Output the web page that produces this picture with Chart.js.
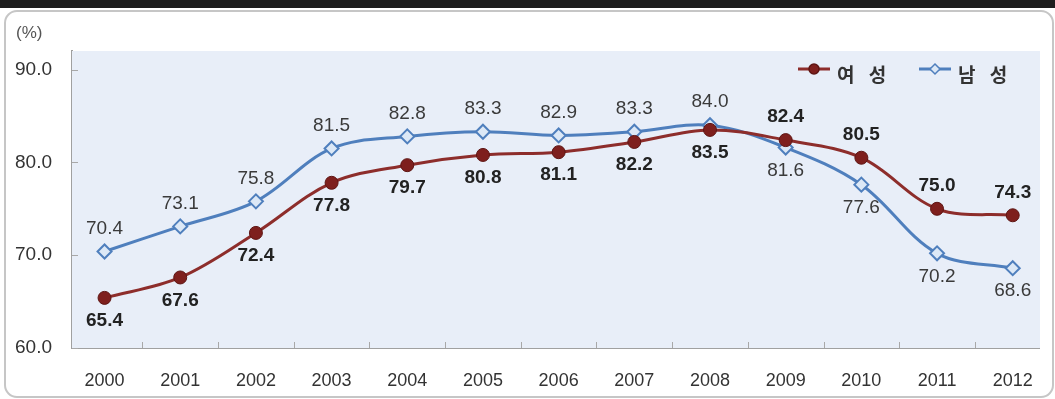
<!DOCTYPE html>
<html>
<head>
<meta charset="utf-8">
<script src="https://cdn.jsdelivr.net/npm/chart.js@4/dist/chart.umd.min.js"></script>
<style>
  html, body { margin: 0; padding: 0; background: #fff; }
  #wrap { position: relative; width: 1055px; height: 399px; overflow: hidden; }
  #band { position: absolute; left: 0; top: 0; width: 1055px; height: 8px; background: #1d1d1d; }
  #panel { position: absolute; left: 4px; top: 10px; width: 1046px; height: 384px;
           border: 2px solid #c6c6c6; border-radius: 13px; background: #fff; }
  canvas { position: absolute; left: 0; top: 0; }
</style>
</head>
<body>
<div id="wrap">
  <div id="band"></div>
  <div id="panel"></div>
  <canvas id="chart"></canvas>
</div>
<script>
const years = [2000, 2001, 2002, 2003, 2004, 2005, 2006, 2007, 2008, 2009, 2010, 2011, 2012];
const female = [65.4, 67.6, 72.4, 77.8, 79.7, 80.8, 81.1, 82.2, 83.5, 82.4, 80.5, 75.0, 74.3];
const male = [70.4, 73.1, 75.8, 81.5, 82.8, 83.3, 82.9, 83.3, 84.0, 81.6, 77.6, 70.2, 68.6];
const yTicks = [60, 70, 80, 90];

// where each value label sits relative to its point
const femaleSide = [1, 1, 1, 1, 1, 1, 1, 1, 1, -1, -1, -1, -1];
const maleSide = [-1, -1, -1, -1, -1, -1, -1, -1, -1, 1, 1, 1, 1];

const ctx = document.getElementById('chart').getContext('2d');
ctx.canvas.width = 1055;
ctx.canvas.height = 399;

const FONT = '"Liberation Sans", Arial, sans-serif';
const KFONT = '"Noto Sans CJK KR", "Noto Sans", sans-serif';

const decor = {
    id: 'decor',
    beforeDatasetsDraw(chart) {
        const { ctx, chartArea: a, scales } = chart;
        ctx.save();
        ctx.fillStyle = '#e8eef8';
        ctx.fillRect(a.left, a.top, a.right - a.left, a.bottom - a.top);
        // small inward ticks
        ctx.strokeStyle = '#a8a8a8';
        ctx.lineWidth = 1;
        ctx.beginPath();
        yTicks.forEach(v => {
            const y = Math.round(scales.y.getPixelForValue(v)) + 0.5;
            ctx.moveTo(a.left, y);
            ctx.lineTo(a.left + 6, y);
        });
        for (let i = 0; i < years.length - 1; i++) {
            const x = Math.round(scales.x.getPixelForValue(years[i] + 0.5)) + 0.5;
            ctx.moveTo(x, a.bottom);
            ctx.lineTo(x, a.bottom - 6);
        }
        ctx.stroke();
        ctx.restore();
    },
    afterDraw(chart) {
        const { ctx } = chart;
        ctx.save();
        ctx.fillStyle = '#555';
        ctx.font = '17px ' + FONT;
        ctx.textBaseline = 'middle';
        ctx.fillText('(%)', 16, 33);

        // legend
        const items = chart.data.datasets.map((ds, i) => ({ ds, x: [798, 919][i] }));
        items.forEach(({ ds, x }) => {
            const y = 69;
            ctx.strokeStyle = ds.borderColor;
            ctx.lineWidth = 3;
            ctx.beginPath();
            ctx.moveTo(x, y);
            ctx.lineTo(x + 32, y);
            ctx.stroke();
            ctx.fillStyle = ds.pointBackgroundColor;
            ctx.strokeStyle = ds.pointBorderColor;
            ctx.lineWidth = 1.5;
            ctx.beginPath();
            if (ds.pointStyle === 'rectRot') {
                ctx.moveTo(x + 16, y - 5); ctx.lineTo(x + 21, y);
                ctx.lineTo(x + 16, y + 5); ctx.lineTo(x + 11, y);
                ctx.closePath();
            } else {
                ctx.arc(x + 16, y, 5, 0, Math.PI * 2);
            }
            ctx.fill();
            ctx.stroke();
            ctx.fillStyle = '#333';
            ctx.font = 'bold 19px ' + KFONT;
            ctx.textBaseline = 'middle';
            ctx.letterSpacing = '5px';
            ctx.fillText(ds.label, x + 39, y + 6);
            ctx.letterSpacing = '0px';
        });
        ctx.restore();
    },
    afterDatasetsDraw(chart) {
        const { ctx } = chart;
        ctx.save();
        ctx.textAlign = 'center';
        ctx.textBaseline = 'middle';
        chart.data.datasets.forEach((ds, di) => {
            const meta = chart.getDatasetMeta(di);
            const sides = di === 0 ? femaleSide : maleSide;
            ctx.font = (di === 0 ? 'bold ' : '') + '19px ' + FONT;
            ctx.fillStyle = di === 0 ? '#222' : '#3a3a3a';
            meta.data.forEach((pt, i) => {
                ctx.fillText(ds.data[i].y.toFixed(1), pt.x, pt.y + sides[i] * 23);
            });
        });
        ctx.restore();
    }
};

const chart = new Chart(ctx, {
    type: 'line',
    data: {
        datasets: [
            {
                label: '여 성',
                data: years.map((x, i) => ({ x: x, y: female[i] })),
                borderColor: '#8d2d2b',
                borderWidth: 3,
                pointStyle: 'circle',
                pointRadius: 6.5,
                pointBackgroundColor: '#7e1f1d',
                pointBorderColor: '#5e1513',
                pointBorderWidth: 1,
                tension: 0.35
            },
            {
                label: '남 성',
                data: years.map((x, i) => ({ x: x, y: male[i] })),
                borderColor: '#4f7fbd',
                borderWidth: 3,
                pointStyle: 'rectRot',
                pointRadius: 7,
                pointBackgroundColor: '#dce8f6',
                pointBorderColor: '#4f7fbd',
                pointBorderWidth: 2,
                tension: 0.35
            }
        ]
    },
    options: {
        responsive: false,
        animation: false,
        layout: { padding: { top: 51, right: 5, left: 0, bottom: 0 } },
        plugins: { legend: { display: false }, tooltip: { enabled: false } },
        scales: {
            x: {
                type: 'linear',
                min: 1999.57,
                max: 2012.36,
                afterBuildTicks: axis => { axis.ticks = years.map(v => ({ value: v })); },
                afterFit: axis => { axis.height = 51; },
                grid: { display: false, drawTicks: false },
                border: { color: '#a0a0a0', width: 2 },
                ticks: {
                    autoSkip: false,
                    maxRotation: 0,
                    padding: 22,
                    color: '#333',
                    font: { family: FONT, size: 18 },
                    callback: v => String(v)
                }
            },
            y: {
                min: 60,
                max: 92,
                afterBuildTicks: axis => { axis.ticks = yTicks.map(v => ({ value: v })); },
                afterFit: axis => { axis.width = 72; },
                grid: { display: false, drawTicks: false },
                border: { color: '#a0a0a0', width: 2 },
                ticks: {
                    padding: 20,
                    color: '#333',
                    font: { family: FONT, size: 19 },
                    callback: v => v.toFixed(1)
                }
            }
        }
    },
    plugins: [decor]
});
</script>
</body>
</html>
